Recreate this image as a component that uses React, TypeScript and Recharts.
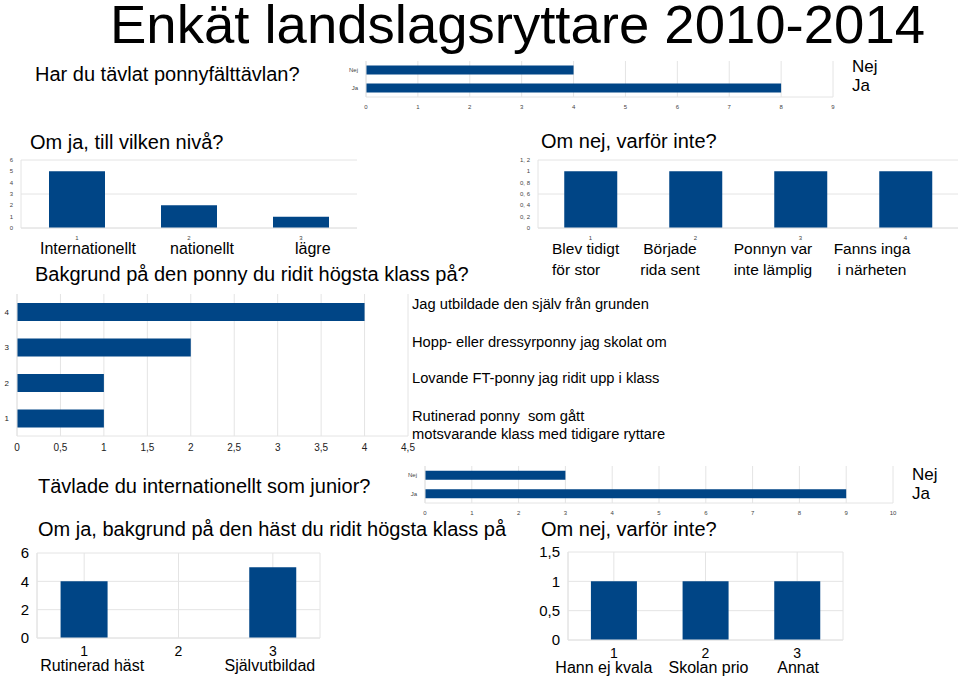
import { BarChart, Bar, XAxis, YAxis, CartesianGrid } from "recharts";

// Har du tävlat ponnyfälttävlan?
const ponnyCats = ["Nej", "Ja"];
const ponnyVals = [4, 8];
const ponnyTicks = [0, 1, 2, 3, 4, 5, 6, 7, 8, 9];

// Om ja, till vilken nivå?
const nivaCats = ["1", "2", "3"];
const nivaVals = [5, 2, 1];
const nivaNames = ["Internationellt", "nationellt", "lägre"];
const nivaTicks = [0, 1, 2, 3, 4, 5, 6];

// Om nej, varför inte?
const varforCats = ["1", "2", "3", "4"];
const varforVals = [1, 1, 1, 1];
const varforNames = [
  ["Blev tidigt", "för stor"],
  ["Började", "rida sent"],
  ["Ponnyn var", "inte lämplig"],
  ["Fanns inga", "i närheten"],
];
const varforTicks = [0, 0.2, 0.4, 0.6, 0.8, 1, 1.2];

// Bakgrund på den ponny du ridit högsta klass på?
const bakgrundCats = ["1", "2", "3", "4"];
const bakgrundVals = [1, 1, 2, 4];
const bakgrundTicks = [0, 0.5, 1, 1.5, 2, 2.5, 3, 3.5, 4, 4.5];

// Tävlade du internationellt som junior?
const juniorCats = ["Nej", "Ja"];
const juniorVals = [3, 9];
const juniorTicks = [0, 1, 2, 3, 4, 5, 6, 7, 8, 9, 10];

// Om ja, bakgrund på den häst du ridit högsta klass på
const hastCats = ["1", "2", "3"];
const hastVals = [4, 0, 5];
const hastNames = ["Rutinerad häst", "", "Självutbildad"];
const hastTicks = [0, 2, 4, 6];

// Om nej, varför inte? (junior)
const ejCats = ["1", "2", "3"];
const ejVals = [1, 1, 1];
const ejNames = ["Hann ej kvala", "Skolan prio", "Annat"];
const ejTicks = [0, 0.5, 1, 1.5];

const BLUE = "#004586";
const GRID = "#e4e4e4";
const FONT = "'Liberation Sans', Arial, sans-serif";

const comma = (v: number) => String(v).replace(".", ",");
const commaSpace = (v: number) => String(v).replace(".", ", ");

const toRows = (cats: string[], vals: number[]) =>
  cats.map((c, i) => ({ name: c, value: vals[i] }));

// number on the first line, text label below (names sit a bit off the tick)
function TwoLineTick(props: any) {
  const { x, y, payload, names, shift } = props;
  return (
    <text x={x} y={y} textAnchor="middle" fontFamily={FONT} fill="#000">
      <tspan x={x} dy={18} fontSize={14}>
        {payload.value}
      </tspan>
      <tspan x={x + shift[payload.index]} dy={15} fontSize={16}>
        {names[payload.index]}
      </tspan>
    </text>
  );
}

const abs = (left: number, top: number, extra: any = {}) => ({
  position: "absolute" as const,
  left,
  top,
  ...extra,
});

const tiny = { fontSize: 6, fill: "#444", fontFamily: FONT };

export default function App() {
  return (
    <div
      style={{
        position: "absolute",
        left: 0,
        top: 0,
        width: 960,
        height: 677,
        background: "#fff",
        fontFamily: FONT,
        color: "#000",
        overflow: "hidden",
      }}
    >
      <div
        style={abs(110, 0, { fontSize: 54.5, lineHeight: 0.9, whiteSpace: "nowrap" })}
      >
        Enkät landslagsryttare 2010-2014
      </div>

      {/* ponnyfälttävlan */}
      <div style={abs(35, 63, { fontSize: 20, whiteSpace: "nowrap" })}>
        Har du tävlat ponnyfälttävlan?
      </div>
      <div style={abs(330, 55)}>
        <BarChart
          width={520}
          height={55}
          layout="vertical"
          data={toRows(ponnyCats, ponnyVals)}
          margin={{ top: 6, right: 17, left: 0, bottom: 0 }}
          barCategoryGap="25%"
        >
          <CartesianGrid stroke={GRID} horizontal={false} />
          <XAxis
            type="number"
            domain={[0, 9]}
            ticks={ponnyTicks}
            height={13}
            tick={tiny}
            tickLine={false}
            axisLine={{ stroke: GRID }}
            interval={0}
          />
          <YAxis
            type="category"
            dataKey="name"
            width={36}
            tick={tiny}
            tickLine={false}
            axisLine={{ stroke: GRID }}
          />
          <Bar dataKey="value" fill={BLUE} isAnimationActive={false} />
        </BarChart>
      </div>
      <div style={abs(852, 57, { fontSize: 17, lineHeight: "19px" })}>
        {ponnyCats.map((c) => (
          <div key={c}>{c}</div>
        ))}
      </div>

      {/* Om ja, till vilken nivå? */}
      <div style={abs(30, 131, { fontSize: 20, whiteSpace: "nowrap" })}>
        Om ja, till vilken nivå?
      </div>
      <div style={abs(0, 150)}>
        <BarChart
          width={360}
          height={95}
          data={toRows(nivaCats, nivaVals)}
          margin={{ top: 10, right: 3, left: 0, bottom: 0 }}
          barCategoryGap="25%"
        >
          <CartesianGrid stroke={GRID} vertical={false} />
          <XAxis
            dataKey="name"
            height={17}
            tick={tiny}
            tickLine={false}
            axisLine={{ stroke: GRID }}
          />
          <YAxis
            domain={[0, 6]}
            ticks={nivaTicks}
            width={21}
            tick={tiny}
            tickLine={false}
            axisLine={{ stroke: GRID }}
          />
          <Bar dataKey="value" fill={BLUE} isAnimationActive={false} />
        </BarChart>
      </div>
      {nivaNames.map((n, i) => (
        <div
          key={n}
          style={abs([40, 170, 295][i], 240, { fontSize: 16, whiteSpace: "nowrap" })}
        >
          {n}
        </div>
      ))}

      {/* Om nej, varför inte? */}
      <div style={abs(541, 130, { fontSize: 20, whiteSpace: "nowrap" })}>
        Om nej, varför inte?
      </div>
      <div style={abs(500, 150)}>
        <BarChart
          width={460}
          height={95}
          data={toRows(varforCats, varforVals)}
          margin={{ top: 10, right: 2, left: 0, bottom: 0 }}
          barCategoryGap="25%"
        >
          <CartesianGrid stroke={GRID} vertical={false} />
          <XAxis
            dataKey="name"
            height={17}
            tick={tiny}
            tickLine={false}
            axisLine={{ stroke: GRID }}
          />
          <YAxis
            domain={[0, 1.2]}
            ticks={varforTicks}
            tickFormatter={commaSpace}
            width={38}
            tick={tiny}
            tickLine={false}
            axisLine={{ stroke: GRID }}
          />
          <Bar dataKey="value" fill={BLUE} isAnimationActive={false} />
        </BarChart>
      </div>
      {varforNames.map((n, i) => (
        <div
          key={n[0]}
          style={abs([534, 620, 713, 812][i], 238, {
            width: [100, 100, 120, 120][i],
            textAlign: i === 0 ? "left" : "center",
            paddingLeft: i === 0 ? 18 : 0,
            fontSize: 15.5,
            lineHeight: "21px",
            whiteSpace: "nowrap",
          })}
        >
          <div>{n[0]}</div>
          <div>{n[1]}</div>
        </div>
      ))}

      {/* Bakgrund på den ponny */}
      <div style={abs(35, 263, { fontSize: 20, whiteSpace: "nowrap" })}>
        Bakgrund på den ponny du ridit högsta klass på?
      </div>
      <div style={abs(0, 290)}>
        <BarChart
          width={420}
          height={165}
          layout="vertical"
          data={toRows(bakgrundCats, bakgrundVals)}
          margin={{ top: 4, right: 12, left: 0, bottom: 0 }}
          barCategoryGap="25%"
        >
          <CartesianGrid stroke={GRID} horizontal={false} />
          <XAxis
            type="number"
            domain={[0, 4.5]}
            ticks={bakgrundTicks}
            tickFormatter={comma}
            interval={0}
            height={19}
            tick={{ fontSize: 10, fill: "#222", fontFamily: FONT }}
            tickLine={false}
            axisLine={{ stroke: GRID }}
          />
          <YAxis
            type="category"
            dataKey="name"
            reversed
            width={17}
            tick={{ fontSize: 8, fill: "#222", fontFamily: FONT }}
            tickLine={false}
            axisLine={{ stroke: GRID }}
          />
          <Bar dataKey="value" fill={BLUE} isAnimationActive={false} />
        </BarChart>
      </div>
      <div style={abs(412, 296, { fontSize: 14.7, whiteSpace: "nowrap" })}>
        Jag utbildade den själv från grunden
      </div>
      <div style={abs(412, 334, { fontSize: 14.7, whiteSpace: "nowrap" })}>
        Hopp- eller dressyrponny jag skolat om
      </div>
      <div style={abs(412, 370, { fontSize: 14.7, whiteSpace: "nowrap" })}>
        Lovande FT-ponny jag ridit upp i klass
      </div>
      <div
        style={abs(412, 407, { fontSize: 14.7, lineHeight: "18px", whiteSpace: "pre" })}
      >
        {"Rutinerad ponny  som gått\nmotsvarande klass med tidigare ryttare"}
      </div>

      {/* Junior */}
      <div style={abs(38, 475, { fontSize: 20, whiteSpace: "nowrap" })}>
        Tävlade du internationellt som junior?
      </div>
      <div style={abs(400, 460)}>
        <BarChart
          width={510}
          height={55}
          layout="vertical"
          data={toRows(juniorCats, juniorVals)}
          margin={{ top: 6, right: 17, left: 0, bottom: 0 }}
          barCategoryGap="25%"
        >
          <CartesianGrid stroke={GRID} horizontal={false} />
          <XAxis
            type="number"
            domain={[0, 10]}
            ticks={juniorTicks}
            interval={0}
            height={12}
            tick={tiny}
            tickLine={false}
            axisLine={{ stroke: GRID }}
          />
          <YAxis
            type="category"
            dataKey="name"
            width={25}
            tick={tiny}
            tickLine={false}
            axisLine={{ stroke: GRID }}
          />
          <Bar dataKey="value" fill={BLUE} isAnimationActive={false} />
        </BarChart>
      </div>
      <div style={abs(912, 465, { fontSize: 17, lineHeight: "19px" })}>
        {juniorCats.map((c) => (
          <div key={c}>{c}</div>
        ))}
      </div>

      {/* Om ja, bakgrund häst */}
      <div style={abs(38, 518, { fontSize: 20, whiteSpace: "nowrap" })}>
        Om ja, bakgrund på den häst du ridit högsta klass på
      </div>
      <div style={abs(0, 540)}>
        <BarChart
          width={330}
          height={137}
          data={toRows(hastCats, hastVals)}
          margin={{ top: 13, right: 10, left: 0, bottom: 0 }}
          barCategoryGap="25%"
        >
          <CartesianGrid stroke={GRID} />
          <XAxis
            dataKey="name"
            height={39}
            tickSize={0}
            tickMargin={0}
            tick={<TwoLineTick names={hastNames} shift={[8, 0, -3]} />}
            axisLine={{ stroke: GRID }}
          />
          <YAxis
            domain={[0, 6]}
            ticks={hastTicks}
            width={37}
            tick={{ fontSize: 15, fill: "#000", fontFamily: FONT }}
            tickLine={false}
            axisLine={{ stroke: GRID }}
          />
          <Bar dataKey="value" fill={BLUE} isAnimationActive={false} />
        </BarChart>
      </div>

      {/* Om nej, varför inte? (junior) */}
      <div style={abs(541, 518, { fontSize: 20, whiteSpace: "nowrap" })}>
        Om nej, varför inte?
      </div>
      <div style={abs(520, 540)}>
        <BarChart
          width={330}
          height={137}
          data={toRows(ejCats, ejVals)}
          margin={{ top: 12, right: 7, left: 0, bottom: 0 }}
          barCategoryGap="25%"
        >
          <CartesianGrid stroke={GRID} />
          <XAxis
            dataKey="name"
            height={37}
            tickSize={0}
            tickMargin={0}
            tick={<TwoLineTick names={ejNames} shift={[-10, 3, 1]} />}
            axisLine={{ stroke: GRID }}
          />
          <YAxis
            domain={[0, 1.5]}
            ticks={ejTicks}
            tickFormatter={comma}
            width={48}
            tick={{ fontSize: 15, fill: "#000", fontFamily: FONT }}
            tickLine={false}
            axisLine={{ stroke: GRID }}
          />
          <Bar dataKey="value" fill={BLUE} isAnimationActive={false} />
        </BarChart>
      </div>
    </div>
  );
}
